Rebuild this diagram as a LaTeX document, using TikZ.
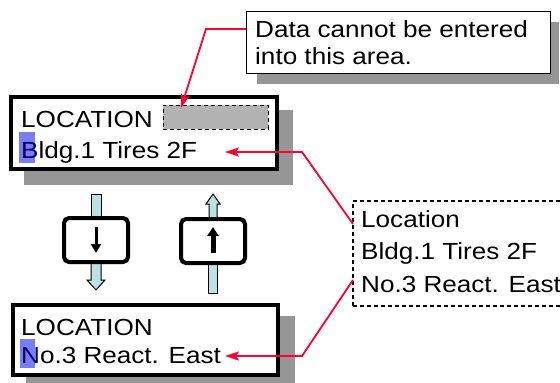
\documentclass[tikz,border=0pt]{standalone}
\usepackage{fontspec}
\setmainfont[FakeStretch=1.12]{Liberation Sans}
\usetikzlibrary{arrows.meta,patterns}
\definecolor{shgray}{RGB}{150,150,150}
\definecolor{boxgray}{RGB}{178,178,178}
\definecolor{lred}{RGB}{255,0,50}
\definecolor{lblue}{RGB}{186,226,228}
\definecolor{hlblue}{RGB}{120,125,240}
\newcommand\bigtxt{\fontsize{23.3}{31}\selectfont}
\begin{document}
\begin{tikzpicture}[x=1pt,y=-1pt,
 shadowbox/.style={fill=shgray},
 display/.style={draw, line width=4pt, fill=white, rectangle, inner sep=0},
 txt/.style={anchor=base west, inner sep=0, font=\bigtxt},
 redline/.style={draw=lred, line width=1.8pt, -{Stealth[length=14pt,width=9pt,inset=3pt]}},
 keybox/.style={rectangle, rounded corners=5pt, draw, line width=4pt, fill=white, minimum width=64pt, minimum height=44pt, inner sep=0},
 blockarrow/.style={fill=lblue, draw, line width=1pt},
 dashbox/.style={draw, dash pattern=on 4pt off 3pt, inner sep=0},
]
\useasboundingbox (0,0) rectangle (560,383);
% top display
\fill[shadowbox] (24,110) rectangle (293,185);
\node[display, minimum width=266pt, minimum height=72pt] (d1) at (144,133) {};
\fill[hlblue] (19,132) rectangle (35,163);
\node[txt] (l1) at (21,127) {LOCATION};
\node[txt] (v1) at (21,158) {\textcolor{blue!40!black}{B}ldg.1 Tires 2F};
\node[dashbox, line width=1pt, fill=boxgray, minimum width=105pt, minimum height=24pt] (ro) at (215.5,117) {};
% bottom display
\fill[shadowbox] (26,316) rectangle (295,390);
\node[display, minimum width=265pt, minimum height=70pt] (d2) at (145.5,340) {};
\fill[hlblue] (20,339) rectangle (35,368);
\node[txt] (l2) at (21,335) {LOCATION};
\node[txt] (v2) at (21,363) {\textcolor{blue!40!black}{N}o.3 React. East};
% callout
\fill[shadowbox] (257,22) rectangle (559,84);
\node[draw, line width=1pt, fill=white, minimum width=304pt, minimum height=62pt, inner sep=0] (call) at (398,42) {};
\node[txt] (ct1) at (255,37) {Data cannot be entered};
\node[txt] (ct2) at (255,64) {into this area.};
% options box
\node[dashbox, line width=1.3pt, minimum width=240pt, minimum height=105pt] (opts) at (473,253.5) {};
\node[txt] (o1) at (361,227) {Location};
\node[txt] (o2) at (361,259) {Bldg.1 Tires 2F};
\node[txt] (o3) at (361,292) {No.3 React. East};
% block arrows
\draw[blockarrow] (91,194) rectangle (101,216);
\draw[blockarrow] (91,262) -- (101,262) -- (101,280) -- (105,280) -- (96,290) -- (87,280) -- (91,280) -- cycle;
\draw[blockarrow] (209,218) -- (209,204) -- (206,204) -- (213,194) -- (220,204) -- (217,204) -- (217,218) -- cycle;
\draw[blockarrow] (208,262) rectangle (217,293);
% keys
\node[keybox] (k1) at (96,240) {};
\node[keybox] (k2) at (213,241) {};
\coordinate (a1s) at (96,227);
\coordinate (a1e) at (96,253);
\coordinate (a2s) at (213,253);
\coordinate (a2e) at (213,227);
\draw[line width=3pt, -{Triangle[length=9pt,width=10pt]}] (a1s) -- (a1e);
\draw[line width=5pt, -{Triangle[length=9pt,width=11pt]}] (a2s) -- (a2e);
% red connectors
\coordinate (cs) at (246,29);
\coordinate (cb) at (206,29);
\coordinate (ct) at (181,108);
\draw[redline] (cs) -- (cb) -- (ct);
\coordinate (s2) at (353,224);
\coordinate (b2) at (302,152);
\coordinate (e2) at (225,152);
\draw[redline] (s2) -- (b2) -- (e2);
\coordinate (s3) at (353,280);
\coordinate (b3) at (302,356);
\coordinate (e3) at (225,356);
\draw[redline] (s3) -- (b3) -- (e3);
\end{tikzpicture}
\end{document}
